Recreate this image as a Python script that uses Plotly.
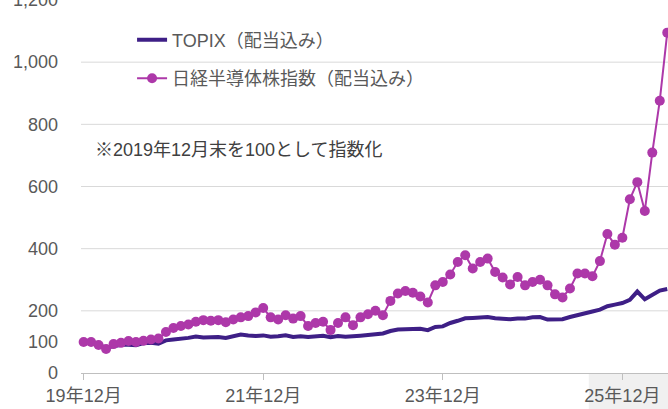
import plotly.graph_objects as go

# ---- data (index, Dec-2019 = 100), monthly from 2019-12 ----
topix = [100, 98, 89, 82, 86, 91, 91, 89, 96, 97, 94, 105, 108, 109, 113, 117, 114, 115, 116, 113,
         117, 124, 121, 119, 121, 117, 118, 121, 116, 118, 116, 119, 120, 115, 119, 117, 120, 120,
         122, 124, 127, 135, 140, 141, 142, 142, 138, 148, 150, 161, 168, 176, 177, 178, 180, 176,
         173, 173, 175, 175, 179, 180, 172, 172, 173, 180, 185, 190, 198, 204, 215, 220, 225, 235,
         262, 237, 252, 265, 270]
semis = [100, 100, 90, 77, 93, 97, 103, 100, 104, 108, 111, 132, 145, 151, 156, 165, 170, 168, 170,
         163, 172, 179, 183, 195, 209, 179, 172, 186, 175, 183, 151, 161, 165, 138, 161, 179, 154,
         179, 189, 200, 186, 232, 256, 264, 258, 246, 227, 282, 293, 317, 357, 379, 336, 357, 368,
         325, 307, 285, 309, 282, 293, 300, 282, 253, 243, 272, 320, 320, 311, 360, 447, 413, 435,
         559, 614, 521, 709, 876, 1095]
months = list(range(len(topix)))
x_tick_pos = [0, 24, 48, 72]
x_tick_text = ["19年12月", "21年12月", "23年12月", "25年12月"]
y_tick_vals = [0, 100, 200, 400, 600, 800, 1000, 1200]
grid_vals = [200, 400, 600, 800, 1000]
name_topix = "TOPIX（配当込み）"
name_semis = "日経半導体株指数（配当込み）"
note = "※2019年12月末を100として指数化"

FONT = "Liberation Sans, Arial, Noto Sans CJK JP, sans-serif"
GREY = "#595959"

fig = go.Figure()
fig.add_trace(go.Scatter(x=months, y=topix, mode="lines", name=name_topix,
                         line=dict(color="#3e1f86", width=4), legendgroup="a"))
fig.add_trace(go.Scatter(x=months, y=semis, mode="lines+markers", name=name_semis,
                         line=dict(color="#ad38a9", width=2),
                         marker=dict(color="#ad38a9", size=10), legendgroup="b",
                         cliponaxis=False))

for g in grid_vals:
    fig.add_shape(type="line", xref="paper", x0=0, x1=1, yref="y", y0=g, y1=g,
                  line=dict(color="#d9d9d9", width=1), layer="below")

# grey band below axis at the right
fig.add_shape(type="rect", xref="paper", x0=0.865, x1=1.0, yref="paper", y0=-0.2, y1=0,
              fillcolor="#f0f0f0", line=dict(width=0), layer="below")

fig.add_annotation(text=note, xref="paper", yref="paper", x=0.02, y=0.598,
                   xanchor="left", yanchor="middle", showarrow=False,
                   font=dict(family=FONT, size=18, color="#404040"))

fig.update_layout(
    width=668, height=409,
    margin=dict(l=81, r=0, t=0, b=36, autoexpand=False),
    paper_bgcolor="white", plot_bgcolor="white",
    font=dict(family=FONT, size=18, color=GREY),
    showlegend=True,
    legend=dict(x=0.087, y=0.942, xanchor="left", yanchor="top",
                bgcolor="rgba(0,0,0,0)", tracegroupgap=12, traceorder="grouped",
                font=dict(family=FONT, size=18, color=GREY)),
    xaxis=dict(range=[-0.35, 78.1], tickvals=x_tick_pos, ticktext=x_tick_text,
               showgrid=False, zeroline=False, showline=True, linecolor="#bfbfbf",
               linewidth=1, ticks="outside", ticklen=6, tickcolor="#bfbfbf",
               tickfont=dict(family=FONT, size=18, color=GREY), automargin=False),
    yaxis=dict(range=[0, 1200], tickvals=y_tick_vals, tickformat=",",
               showgrid=False, zeroline=False, showline=False, ticks="",
               ticklabelstandoff=22, ticklabeloverflow="allow",
               tickfont=dict(family=FONT, size=18, color=GREY), automargin=False),
)

fig.write_html("out.html")
